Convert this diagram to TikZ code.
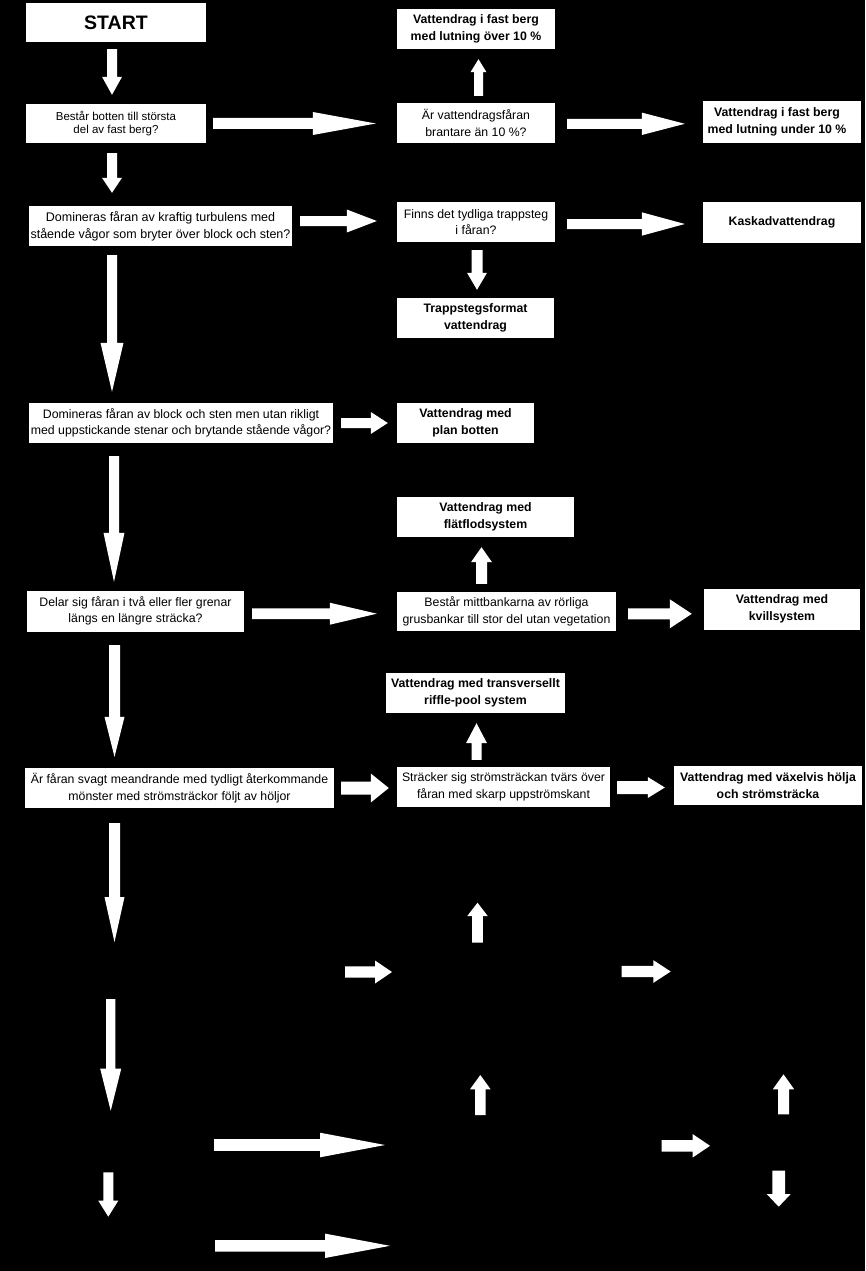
\documentclass[tikz,border=0pt]{standalone}
\usepackage{fontspec}
\setmainfont{Liberation Sans}
\usetikzlibrary{calc}
\tikzset{
  box/.style={rectangle, fill=white, text=black, inner sep=0pt, align=center,
    font=\fontsize{12.3}{16.5}\selectfont},
  res/.style={box, font=\bfseries\fontsize{12.3}{16.5}\selectfont},
  arrowfill/.style={fill=white, draw=none}
}
% block arrows: #1 start, #2 end, #3 shaft half width, #4 head half width, #5 head length
\newcommand\BArR[5]{\fill[arrowfill] let \p1=(#1), \p2=(#2) in
  (\x1,\y1-#3) -- (\x2-#5,\y1-#3) -- (\x2-#5,\y1-#4) -- (\x2,\y1) --
  (\x2-#5,\y1+#4) -- (\x2-#5,\y1+#3) -- (\x1,\y1+#3) -- cycle;}
\newcommand\BArU[5]{\fill[arrowfill] let \p1=(#1), \p2=(#2) in
  (\x1-#3,\y1) -- (\x1-#3,\y2-#5) -- (\x1-#4,\y2-#5) -- (\x1,\y2) --
  (\x1+#4,\y2-#5) -- (\x1+#3,\y2-#5) -- (\x1+#3,\y1) -- cycle;}
\newcommand\BArD[5]{\fill[arrowfill] let \p1=(#1), \p2=(#2) in
  (\x1-#3,\y1) -- (\x1-#3,\y2+#5) -- (\x1-#4,\y2+#5) -- (\x1,\y2) --
  (\x1+#4,\y2+#5) -- (\x1+#3,\y2+#5) -- (\x1+#3,\y1) -- cycle;}
\begin{document}
\begin{tikzpicture}[x=1pt,y=-1pt]
\fill[black] (0,0) rectangle (865,1271);
\useasboundingbox (0,0) rectangle (865,1271);

% nodes
\node[res, minimum width=180pt, minimum height=39pt, font=\bfseries\fontsize{19.5}{22}\selectfont] (start) at (116,22.5) {START};
\node[box, minimum width=180pt, minimum height=39pt, font=\fontsize{11.5}{13.5}\selectfont] (q1) at (116,123.5) {Består botten till största\\del av fast berg?};
\node[res, minimum width=158pt, minimum height=40pt] (rover) at (476,29) {Vattendrag i fast berg\\med lutning över 10 \%};
\node[box, minimum width=158pt, minimum height=40pt] (q2) at (476,123) {Är vattendragsfåran\\brantare än 10 \%?};
\node[res, minimum width=158pt, minimum height=41pt] (runder) at (782,122) {Vattendrag i fast berg\hspace*{10pt}\\med lutning under 10 \%\hspace*{10pt}};
\node[box, minimum width=263pt, minimum height=40pt, font=\fontsize{12.5}{17}\selectfont] (q3) at (160.5,226) {Domineras fåran av kraftig turbulens med\\stående vågor som bryter över block och sten?};
\node[box, minimum width=158pt, minimum height=40pt] (q4) at (476,222) {Finns det tydliga trappsteg\\i fåran?};
\node[res, minimum width=158pt, minimum height=41pt] (kaskad) at (782,222.2) {Kaskadvattendrag};
\node[res, minimum width=157pt, minimum height=40pt] (trapp) at (475.5,318) {Trappstegsformat\\vattendrag};
\node[box, minimum width=304pt, minimum height=40pt] (q5) at (181,423) {Domineras fåran av block och sten men utan rikligt\\med uppstickande stenar och brytande stående vågor?};
\node[res, minimum width=137pt, minimum height=40pt] (plan) at (465.5,423) {Vattendrag med\\plan botten};
\node[res, minimum width=177pt, minimum height=40pt] (flat) at (485.5,517) {Vattendrag med\\flätflodsystem};
\node[box, minimum width=217pt, minimum height=41pt] (q6) at (135.5,611) {Delar sig fåran i två eller fler grenar\\längs en längre sträcka?};
\node[box, minimum width=219pt, minimum height=39pt] (q7) at (506.5,611.5) {Består mittbankarna av rörliga\\grusbankar till stor del utan vegetation};
\node[res, minimum width=156pt, minimum height=41pt] (kvill) at (782,609) {Vattendrag med\\kvillsystem};
\node[res, minimum width=179pt, minimum height=40pt] (trans) at (475.5,693) {Vattendrag med transversellt\\riffle-pool system};
\node[box, minimum width=309pt, minimum height=40pt] (q8) at (179.5,788) {Är fåran svagt meandrande med tydligt återkommande\\mönster med strömsträckor följt av höljor};
\node[box, minimum width=213pt, minimum height=40pt] (q9) at (503.5,787) {Sträcker sig strömsträckan tvärs över\\fåran med skarp uppströmskant};
\node[res, minimum width=188pt, minimum height=39pt] (vaxel) at (768,785.5) {Vattendrag med växelvis hölja\\och strömsträcka};

% free ends in the lower part
\coordinate (e19) at (114.5,942);
\coordinate (s20) at (477.5,942.7); \coordinate (e20) at (477.5,902.7);
\coordinate (s21) at (345,972);     \coordinate (e21) at (392,972);
\coordinate (s22) at (621.7,971.5); \coordinate (e22) at (670.7,971.5);
\coordinate (s23) at (110.7,999);   \coordinate (e23) at (110.7,1110.7);
\coordinate (s24) at (480.3,1115);  \coordinate (e24) at (480.3,1075);
\coordinate (s25) at (783.5,1114.3);\coordinate (e25) at (783.5,1074.3);
\coordinate (s26) at (214,1145);    \coordinate (e26) at (385,1145);
\coordinate (s27) at (661.7,1145.8);\coordinate (e27) at (710,1145.8);
\coordinate (s28) at (108.3,1172.3);\coordinate (e28) at (108.3,1216.7);
\coordinate (s29) at (778.7,1170.7);\coordinate (e29) at (778.7,1206.7);
\coordinate (s30) at (215,1245.8);  \coordinate (e30) at (390,1245.8);

% connectors
\BArD{$(start.south)+(-4,7)$}{$(q1.north)+(-4,-9)$}{5pt}{10pt}{18pt}
\BArR{$(q1.east)+(7,0)$}{$(q2.west)+(-21,0)$}{5.5pt}{11.5pt}{63pt}
\BArD{$(q1.south)+(-4,10)$}{$(q3.north)+(0,-13)$}{5pt}{10pt}{15pt}
\BArU{$(q2.north)+(2.5,-7)$}{$(rover.south)+(0,10)$}{4.5pt}{8pt}{13pt}
\BArR{$(q2.east)+(12,0.8)$}{$(runder.west)+(-18,0)$}{5pt}{11.2pt}{43pt}
\BArR{$(q3.east)+(8,-5)$}{$(q4.west)+(-20,0)$}{5pt}{11.5pt}{30pt}
\BArR{$(q4.east)+(12,2)$}{$(kaskad.west)+(-18,0)$}{5pt}{11.7pt}{43pt}
\BArD{$(q4.south)+(1,8)$}{$(trapp.north)+(0,-8)$}{5.5pt}{10pt}{17pt}
\BArD{$(q3.south)+(-48.5,9)$}{$(q5.north)+(0,-11)$}{5pt}{11.5pt}{49pt}
\BArR{$(q5.east)+(8,0)$}{$(plan.west)+(-9,0)$}{5pt}{11pt}{17pt}
\BArD{$(q5.south)+(-67,13)$}{$(q6.north)+(0,-8.5)$}{5pt}{10.5pt}{49pt}
\BArR{$(q6.east)+(8,2.7)$}{$(q7.west)+(-20,0)$}{5.3pt}{11pt}{47pt}
\BArU{$(q7.north)+(-25,-8)$}{$(flat.south)+(0,10)$}{5.5pt}{10.5pt}{15pt}
\BArR{$(q7.east)+(12,2.3)$}{$(kvill.west)+(-12,0)$}{5.5pt}{14.5pt}{22pt}
\BArD{$(q6.south)+(-21,13.5)$}{$(q8.north)+(0,-11)$}{5.5pt}{10pt}{40pt}
\BArR{$(q8.east)+(7,0)$}{$(q9.west)+(-8,0)$}{6.5pt}{14.5pt}{18pt}
\BArU{$(q9.north)+(-27,-7)$}{$(trans.south)+(0,10)$}{5pt}{10.5pt}{20pt}
\BArR{$(q9.east)+(7,0.5)$}{$(vaxel.west)+(-9,0)$}{6.5pt}{10.5pt}{17pt}
\BArD{$(q8.south)+(-65,15)$}{e19}{5.5pt}{10pt}{45pt}
\BArU{s20}{e20}{5.3pt}{10.2pt}{13.3pt}
\BArR{s21}{e21}{5.7pt}{11.5pt}{17pt}
\BArR{s22}{e22}{5.7pt}{11.3pt}{17.3pt}
\BArD{s23}{e23}{4.7pt}{10.5pt}{42pt}
\BArU{s24}{e24}{5.3pt}{10.3pt}{14.3pt}
\BArU{s25}{e25}{5.5pt}{10.7pt}{15pt}
\BArR{s26}{e26}{5.8pt}{12.3pt}{65pt}
\BArR{s27}{e27}{5.8pt}{11.7pt}{17.3pt}
\BArD{s28}{e28}{5pt}{10pt}{16pt}
\BArD{s29}{e29}{6.3pt}{12pt}{12.7pt}
\BArR{s30}{e30}{5.8pt}{12.2pt}{65pt}
\end{tikzpicture}
\end{document}
